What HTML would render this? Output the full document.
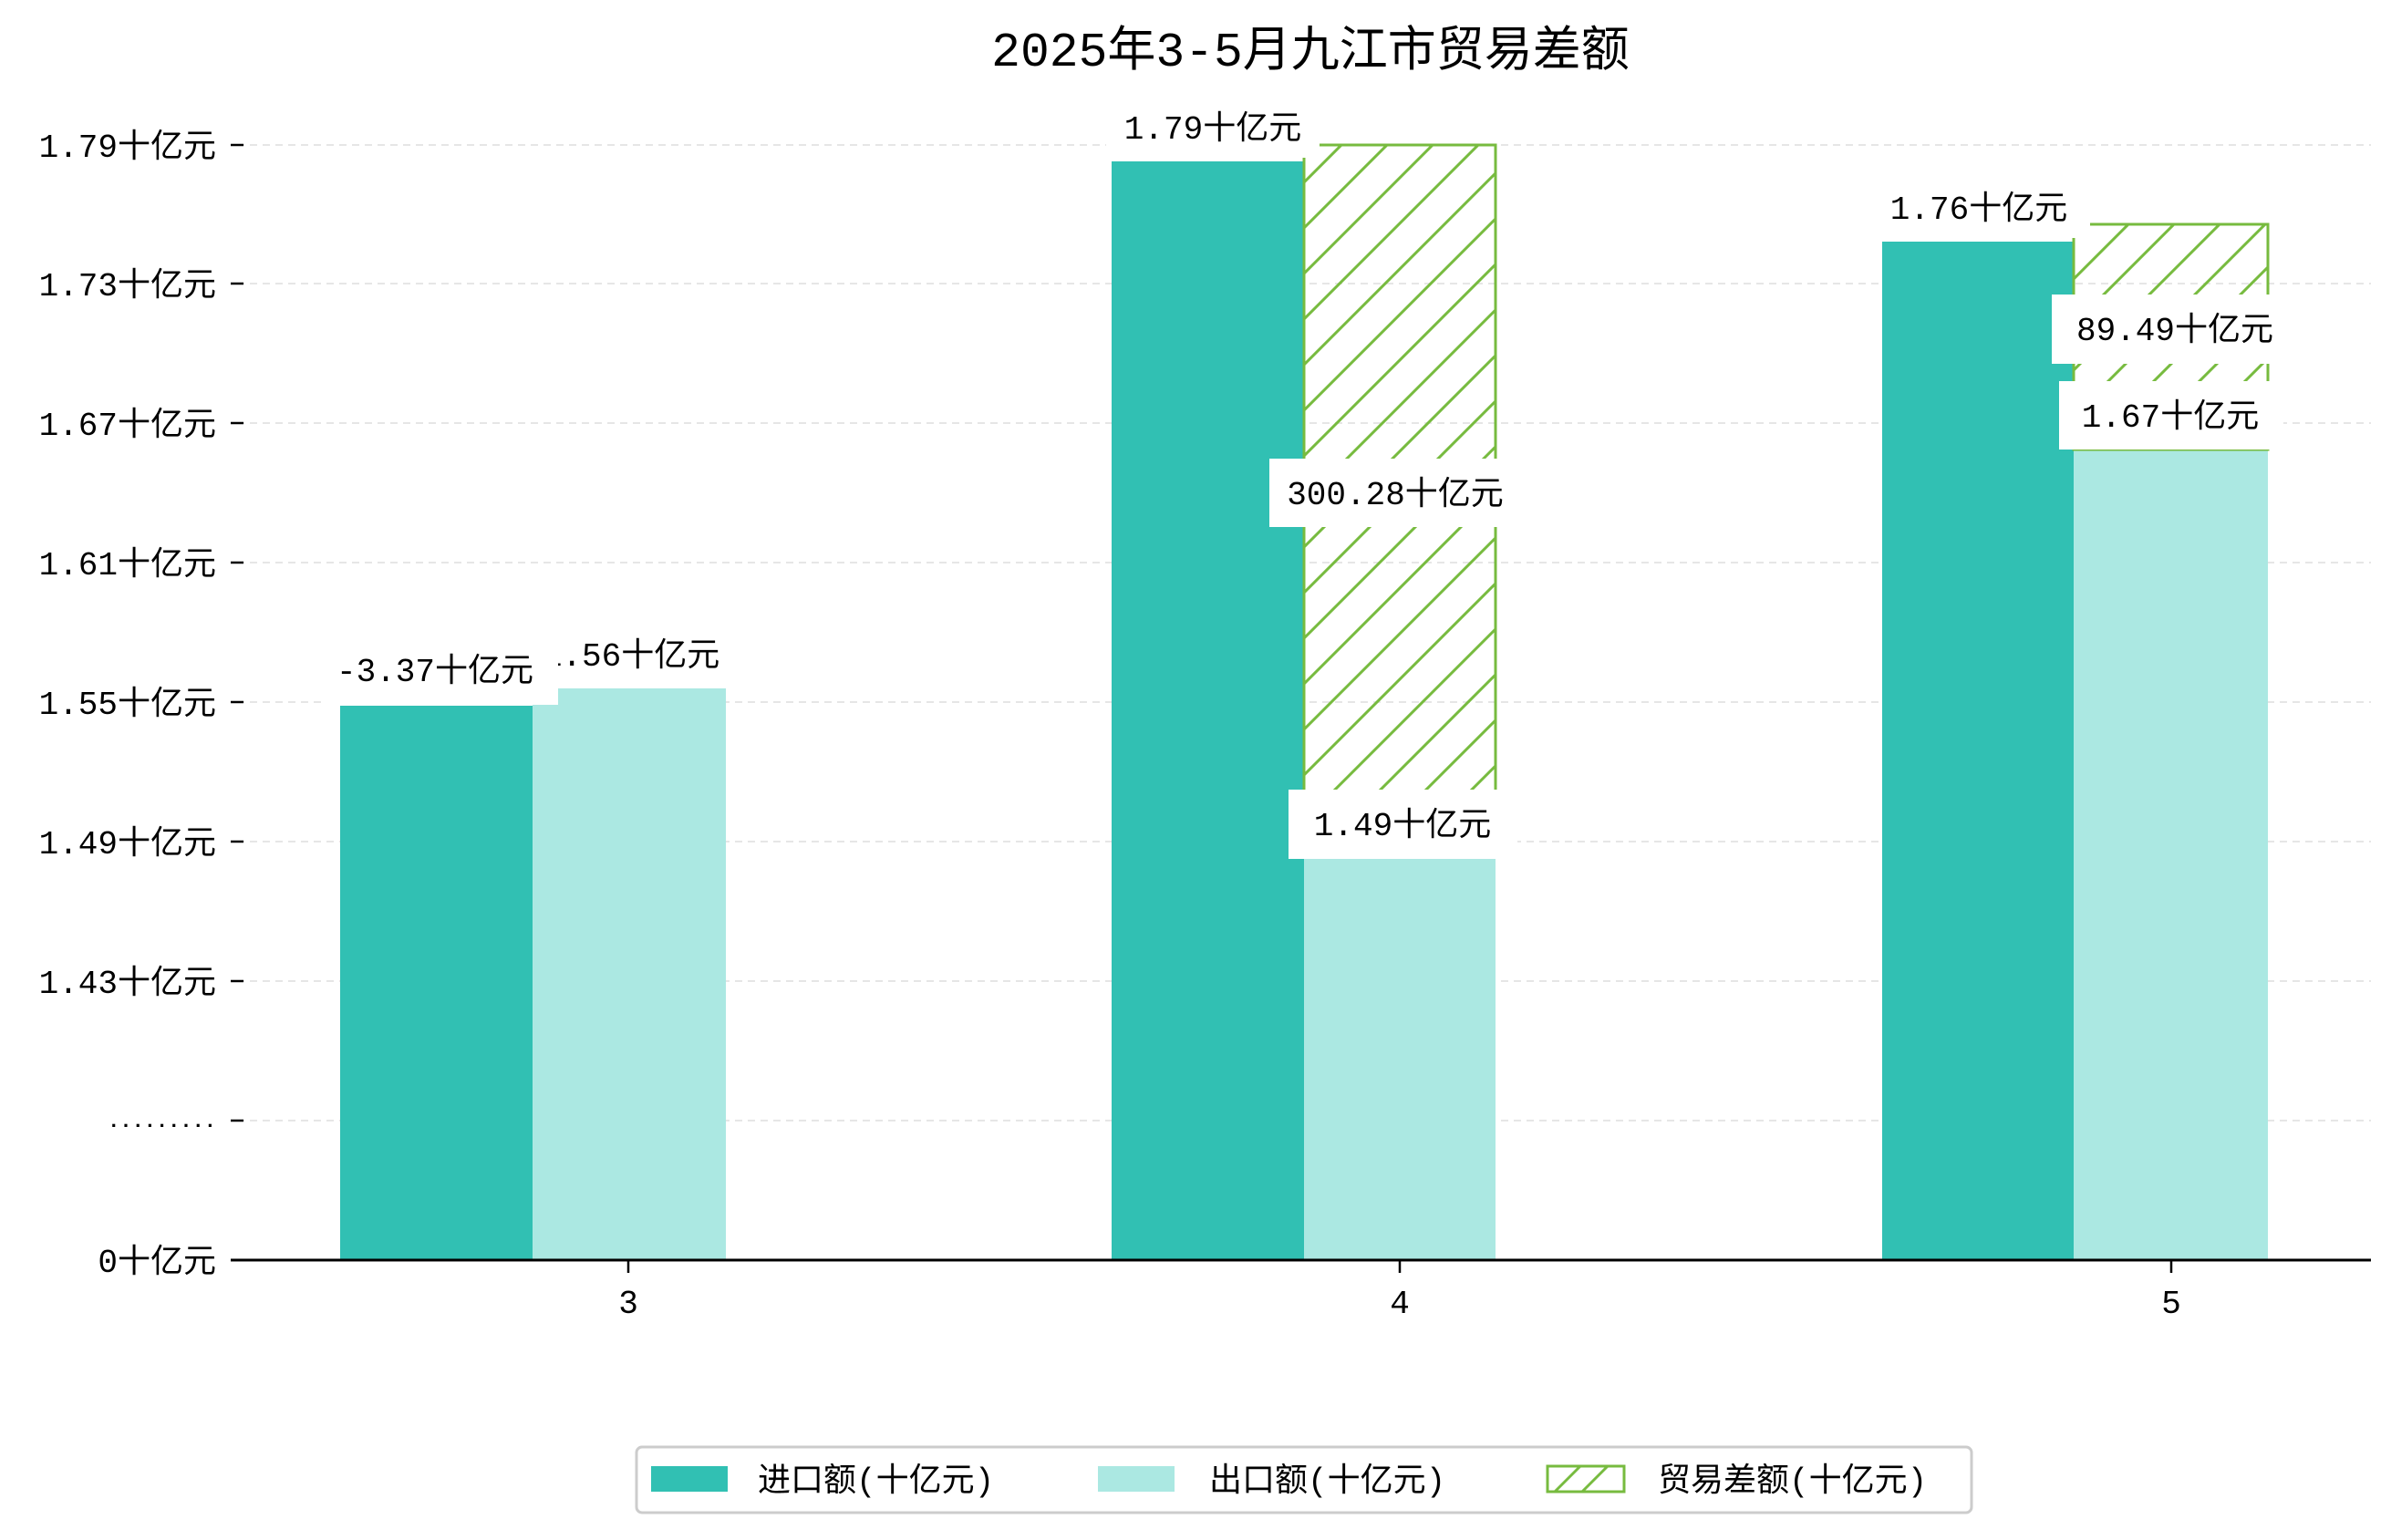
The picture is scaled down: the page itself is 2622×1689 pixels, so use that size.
<!DOCTYPE html>
<html><head><meta charset="utf-8"><style>
html,body{margin:0;padding:0;background:#fff;}
svg{display:block;font-family:"Liberation Mono","Noto Sans CJK SC",monospace;}
</style></head><body>
<svg width="2622" height="1689" viewBox="0 0 2622 1689" xmlns="http://www.w3.org/2000/svg">
<defs>
<pattern id="h" patternUnits="userSpaceOnUse" width="50" height="50" patternTransform="translate(1430,0)">
<path d="M-10,60 L60,-10 M-60,60 L10,-10 M40,60 L110,-10" stroke="#77bb3f" stroke-width="3"/>
</pattern>
</defs>
<text x="1437" y="72" font-size="53" text-anchor="middle" fill="#000">2025年3-5月九江市贸易差额</text>
<g stroke="#e6e6e6" stroke-width="2" stroke-dasharray="8,6">
<line x1="260" y1="159" x2="2600" y2="159"/><line x1="260" y1="311" x2="2600" y2="311"/>
<line x1="260" y1="464" x2="2600" y2="464"/><line x1="260" y1="617" x2="2600" y2="617"/>
<line x1="260" y1="770" x2="2600" y2="770"/><line x1="260" y1="923" x2="2600" y2="923"/>
<line x1="260" y1="1076" x2="2600" y2="1076"/><line x1="260" y1="1229" x2="2600" y2="1229"/>
</g>
<g stroke="#000" stroke-width="2.5">
<line x1="253" y1="159" x2="267" y2="159"/><line x1="253" y1="311" x2="267" y2="311"/>
<line x1="253" y1="464" x2="267" y2="464"/><line x1="253" y1="617" x2="267" y2="617"/>
<line x1="253" y1="770" x2="267" y2="770"/><line x1="253" y1="923" x2="267" y2="923"/>
<line x1="253" y1="1076" x2="267" y2="1076"/><line x1="253" y1="1229" x2="267" y2="1229"/>
<line x1="689" y1="1382" x2="689" y2="1396"/><line x1="1535" y1="1382" x2="1535" y2="1396"/><line x1="2381" y1="1382" x2="2381" y2="1396"/>
</g>
<g font-size="36" text-anchor="end" fill="#000">
<text x="237" y="172">1.79十亿元</text><text x="237" y="324">1.73十亿元</text>
<text x="237" y="477">1.67十亿元</text><text x="237" y="630">1.61十亿元</text>
<text x="237" y="783">1.55十亿元</text><text x="237" y="936">1.49十亿元</text>
<text x="237" y="1089">1.43十亿元</text><text x="237" y="1236" font-size="22" font-weight="bold">.........</text>
<text x="237" y="1395">0十亿元</text>
</g>
<g font-size="36" text-anchor="middle"><text x="689" y="1440">3</text><text x="1535" y="1440">4</text><text x="2381" y="1440">5</text></g>
<rect x="373" y="774" width="211" height="608" fill="#31c0b3"/>
<rect x="584" y="755" width="212" height="627" fill="#abe8e2"/>
<rect x="1219" y="177" width="211" height="1205" fill="#31c0b3"/>
<rect x="1430" y="900" width="210" height="482" fill="#abe8e2"/>
<rect x="1430" y="159" width="210" height="741" fill="url(#h)" stroke="#77bb3f" stroke-width="3"/>
<rect x="2064" y="265" width="210" height="1117" fill="#31c0b3"/>
<rect x="2274" y="493" width="213" height="889" fill="#abe8e2"/>
<rect x="2274" y="246" width="213" height="247" fill="url(#h)" stroke="#77bb3f" stroke-width="3"/>
<line x1="253" y1="1382" x2="2600" y2="1382" stroke="#000" stroke-width="3"/>
<g font-size="36" text-anchor="middle" fill="#000">
<text x="692" y="730">1.56十亿元</text>
<rect x="352" y="705" width="260" height="68" fill="#fff"/>
<text x="477" y="747">-3.37十亿元</text>
<rect x="1213" y="105" width="234" height="68" fill="#fff"/>
<text x="1330" y="152">1.79十亿元</text>
<rect x="1392" y="503" width="276" height="75" fill="#fff"/>
<text x="1530" y="553">300.28十亿元</text>
<rect x="1413" y="866" width="251" height="76" fill="#fff"/>
<text x="1538" y="916">1.49十亿元</text>
<rect x="2052" y="193" width="240" height="68" fill="#fff"/>
<text x="2170" y="240">1.76十亿元</text>
<rect x="2250" y="323" width="270" height="76" fill="#fff"/>
<text x="2385" y="373">89.49十亿元</text>
<rect x="2258" y="418" width="246" height="75" fill="#fff"/>
<text x="2380" y="468">1.67十亿元</text>
</g>
<rect x="698" y="1587" width="1464" height="72" rx="6" fill="#fff" stroke="#cccccc" stroke-width="3"/>
<rect x="714" y="1608" width="84" height="28" fill="#31c0b3"/>
<rect x="1204" y="1608" width="84" height="28" fill="#abe8e2"/>
<rect x="1697" y="1608" width="84" height="28" fill="#fff" stroke="#77bb3f" stroke-width="3"/>
<path d="M1705,1636 L1733,1608 M1735,1636 L1763,1608" stroke="#77bb3f" stroke-width="3"/>
<g font-size="36" fill="#000">
<text x="831" y="1635">进口额(十亿元)</text>
<text x="1326" y="1635">出口额(十亿元)</text>
<text x="1818" y="1635">贸易差额(十亿元)</text>
</g>
</svg>
</body></html>
